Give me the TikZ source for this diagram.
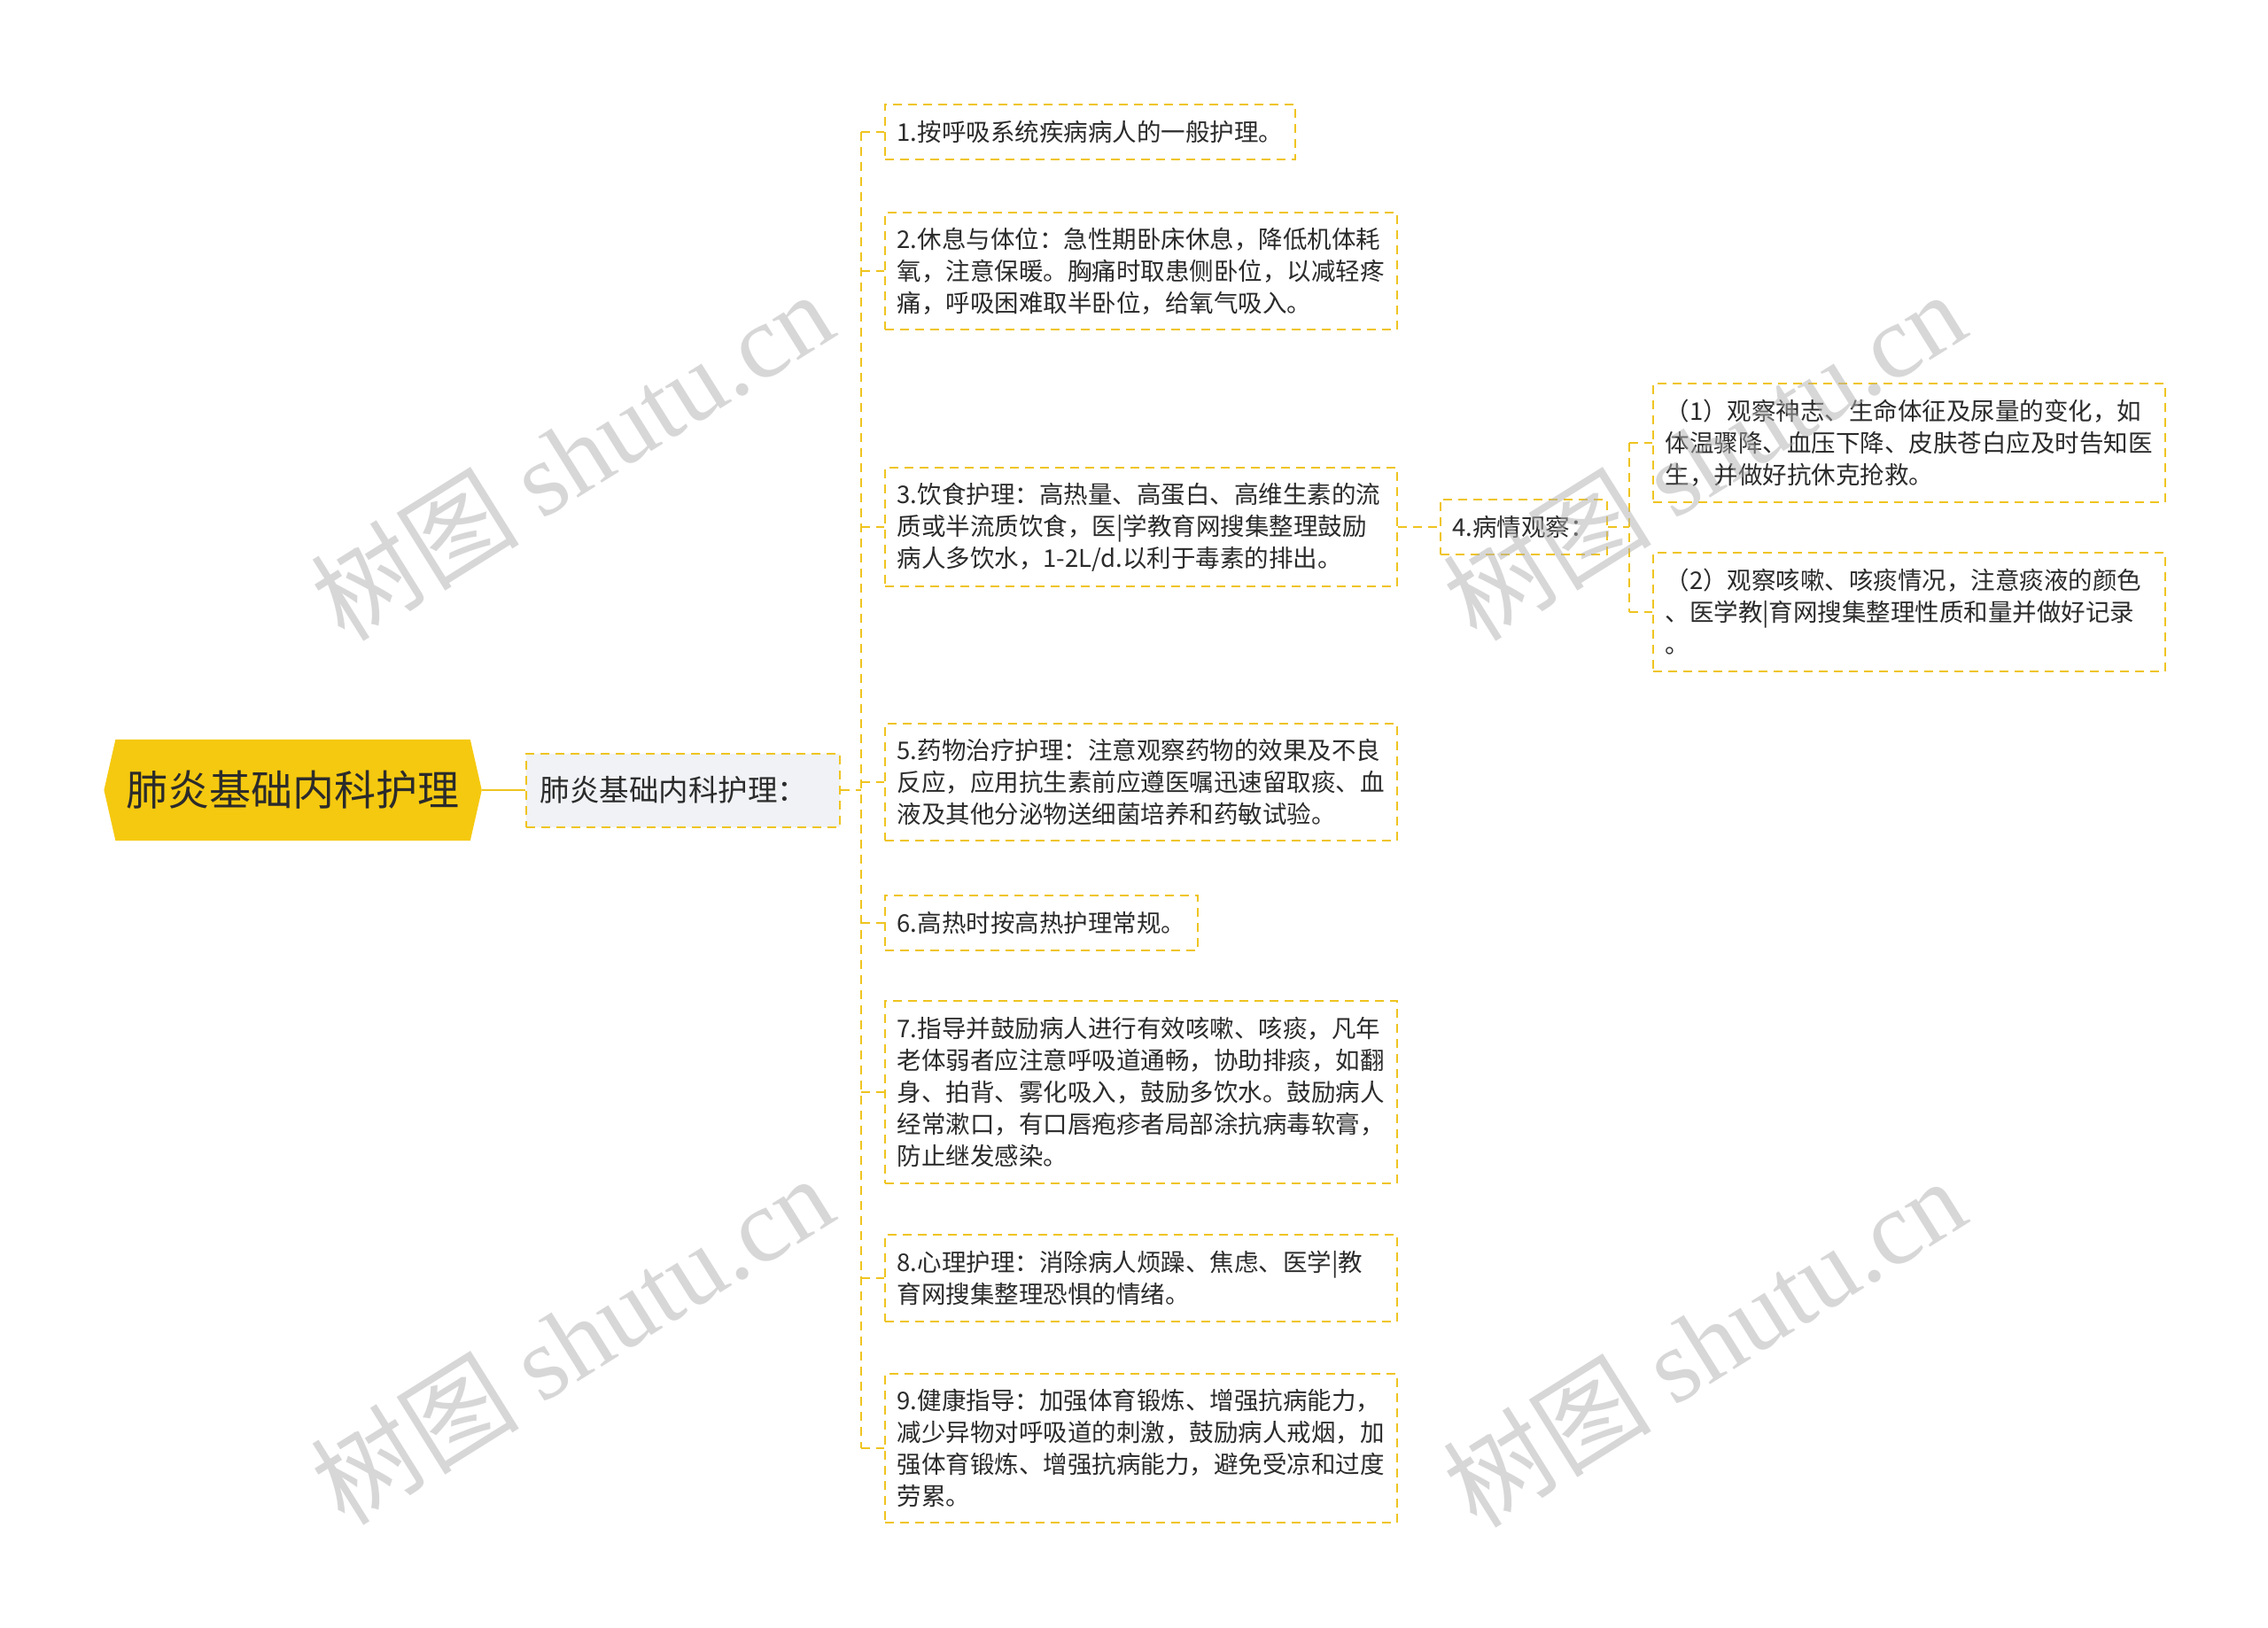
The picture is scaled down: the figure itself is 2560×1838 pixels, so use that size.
\documentclass[tikz,border=0pt]{standalone}
\usepackage{fontspec}
\setmainfont{Noto Sans CJK SC}
\newfontfamily\wmlat{Liberation Serif}
\newfontfamily\cjkfont{Noto Sans CJK SC}
\usetikzlibrary{backgrounds}
\definecolor{lineY}{HTML}{EFC420}
\definecolor{rootY}{HTML}{F5C90F}
\definecolor{lonefill}{HTML}{F0F2F5}
\definecolor{txt}{HTML}{2B2B2B}
\definecolor{wmgray}{HTML}{B0B0B0}
\tikzset{
  conn/.style={draw=lineY, line width=2pt, dash pattern=on 10pt off 7pt},
  leaf/.style={draw=lineY, line width=2pt, dash pattern=on 10pt off 7pt,
    inner xsep=14pt, inner ysep=0pt, anchor=west, text=txt,
    font=\fontsize{27.5}{36}\selectfont},
  wide/.style={leaf, text width=550pt, align=left},
  rootnode/.style={inner sep=0pt, text=txt, font=\fontsize{47}{56}\selectfont},
  lone/.style={fill=lonefill, draw=lineY, line width=2pt, dash pattern=on 10pt off 7pt,
    inner xsep=16pt, inner ysep=0pt, text width=322pt, align=left, anchor=west,
    text=txt, font=\fontsize{33.5}{40}\selectfont},
  wm/.style={text=wmgray, opacity=0.5, inner sep=0pt, font=\fontsize{118}{124}\selectfont}
}
\begin{document}
\begin{tikzpicture}[x=1pt,y=-1pt]
\useasboundingbox (0,0) rectangle (2560,1838);

% root
\node[rootnode, minimum width=426pt, minimum height=114pt] (root) at (330.6,892) {肺炎基础内科护理};
\begin{scope}[on background layer]
\fill[rootY] (root.west) -- ([xshift=13pt]root.north west) -- ([xshift=-13pt]root.north east)
  -- (root.east) -- ([xshift=-13pt]root.south east) -- ([xshift=13pt]root.south west) -- cycle;
\end{scope}

% level 1
\node[lone, minimum height=83pt] (l1) at (592.7,892) {肺炎基础内科护理：};

% leaves
\node[leaf, minimum height=62pt] (b1) at (997.6,149) {1.按呼吸系统疾病病人的一般护理。};
\node[wide, minimum height=132pt] (b2) at (997.6,306) {2.休息与体位：急性期卧床休息，降低机体耗\\氧，注意保暖。胸痛时取患侧卧位，以减轻疼\\痛，呼吸困难取半卧位，给氧气吸入。};
\node[wide, minimum height=134pt] (b3) at (997.6,595) {3.饮食护理：高热量、高蛋白、高维生素的流\\质或半流质饮食，医|学教育网搜集整理鼓励\\病人多饮水，1-2L/d.以利于毒素的排出。};
\node[leaf, minimum height=62pt] (b4) at (1624.5,595) {4.病情观察：};
\node[wide, minimum height=134pt] (b4a) at (1864.5,500) {（1）观察神志、生命体征及尿量的变化，如\\体温骤降、血压下降、皮肤苍白应及时告知医\\生，并做好抗休克抢救。};
\node[wide, minimum height=134pt] (b4b) at (1864.5,691) {（2）观察咳嗽、咳痰情况，注意痰液的颜色\\、医学教|育网搜集整理性质和量并做好记录\\。};
\node[wide, minimum height=132pt] (b5) at (997.6,883) {5.药物治疗护理：注意观察药物的效果及不良\\反应，应用抗生素前应遵医嘱迅速留取痰、血\\液及其他分泌物送细菌培养和药敏试验。};
\node[leaf, minimum height=62pt] (b6) at (997.6,1042) {6.高热时按高热护理常规。};
\node[wide, minimum height=206pt] (b7) at (997.6,1233) {7.指导并鼓励病人进行有效咳嗽、咳痰，凡年\\老体弱者应注意呼吸道通畅，协助排痰，如翻\\身、拍背、雾化吸入，鼓励多饮水。鼓励病人\\经常漱口，有口唇疱疹者局部涂抗病毒软膏，\\防止继发感染。};
\node[wide, minimum height=98pt] (b8) at (997.6,1443) {8.心理护理：消除病人烦躁、焦虑、医学|教\\育网搜集整理恐惧的情绪。};
\node[wide, minimum height=168pt] (b9) at (997.6,1635) {9.健康指导：加强体育锻炼、增强抗病能力，\\减少异物对呼吸道的刺激，鼓励病人戒烟，加\\强体育锻炼、增强抗病能力，避免受凉和过度\\劳累。};

% connectors
\draw[draw=lineY, line width=2.5pt] (root.east) -- (l1.west);
\coordinate (tk) at (972.3,892);
\draw[conn] (l1.east) -- (tk);
\draw[conn] (tk |- b1.west) -- (tk |- b9.west);
\foreach \n in {b1,b2,b3,b5,b6,b7,b8,b9}{
  \draw[conn] (tk |- \n.west) -- (\n.west);
}
\draw[conn] (b3.east) -- (b4.west);
\coordinate (st) at (1839,595);
\draw[conn] (b4.east) -- (st);
\draw[conn] (st |- b4a.west) -- (st |- b4b.west);
\draw[conn] (st |- b4a.west) -- (b4a.west);
\draw[conn] (st |- b4b.west) -- (b4b.west);

% watermarks
\node[wm, rotate=32] (w1) at (645,514) {{\cjkfont 树图} {\wmlat shutu.cn}};
\node[wm, rotate=32] (w2) at (645,1512) {{\cjkfont 树图} {\wmlat shutu.cn}};
\node[wm, rotate=32] (w3) at (1923,514) {{\cjkfont 树图} {\wmlat shutu.cn}};
\node[wm, rotate=32] (w4) at (1923,1515) {{\cjkfont 树图} {\wmlat shutu.cn}};
\end{tikzpicture}
\end{document}
